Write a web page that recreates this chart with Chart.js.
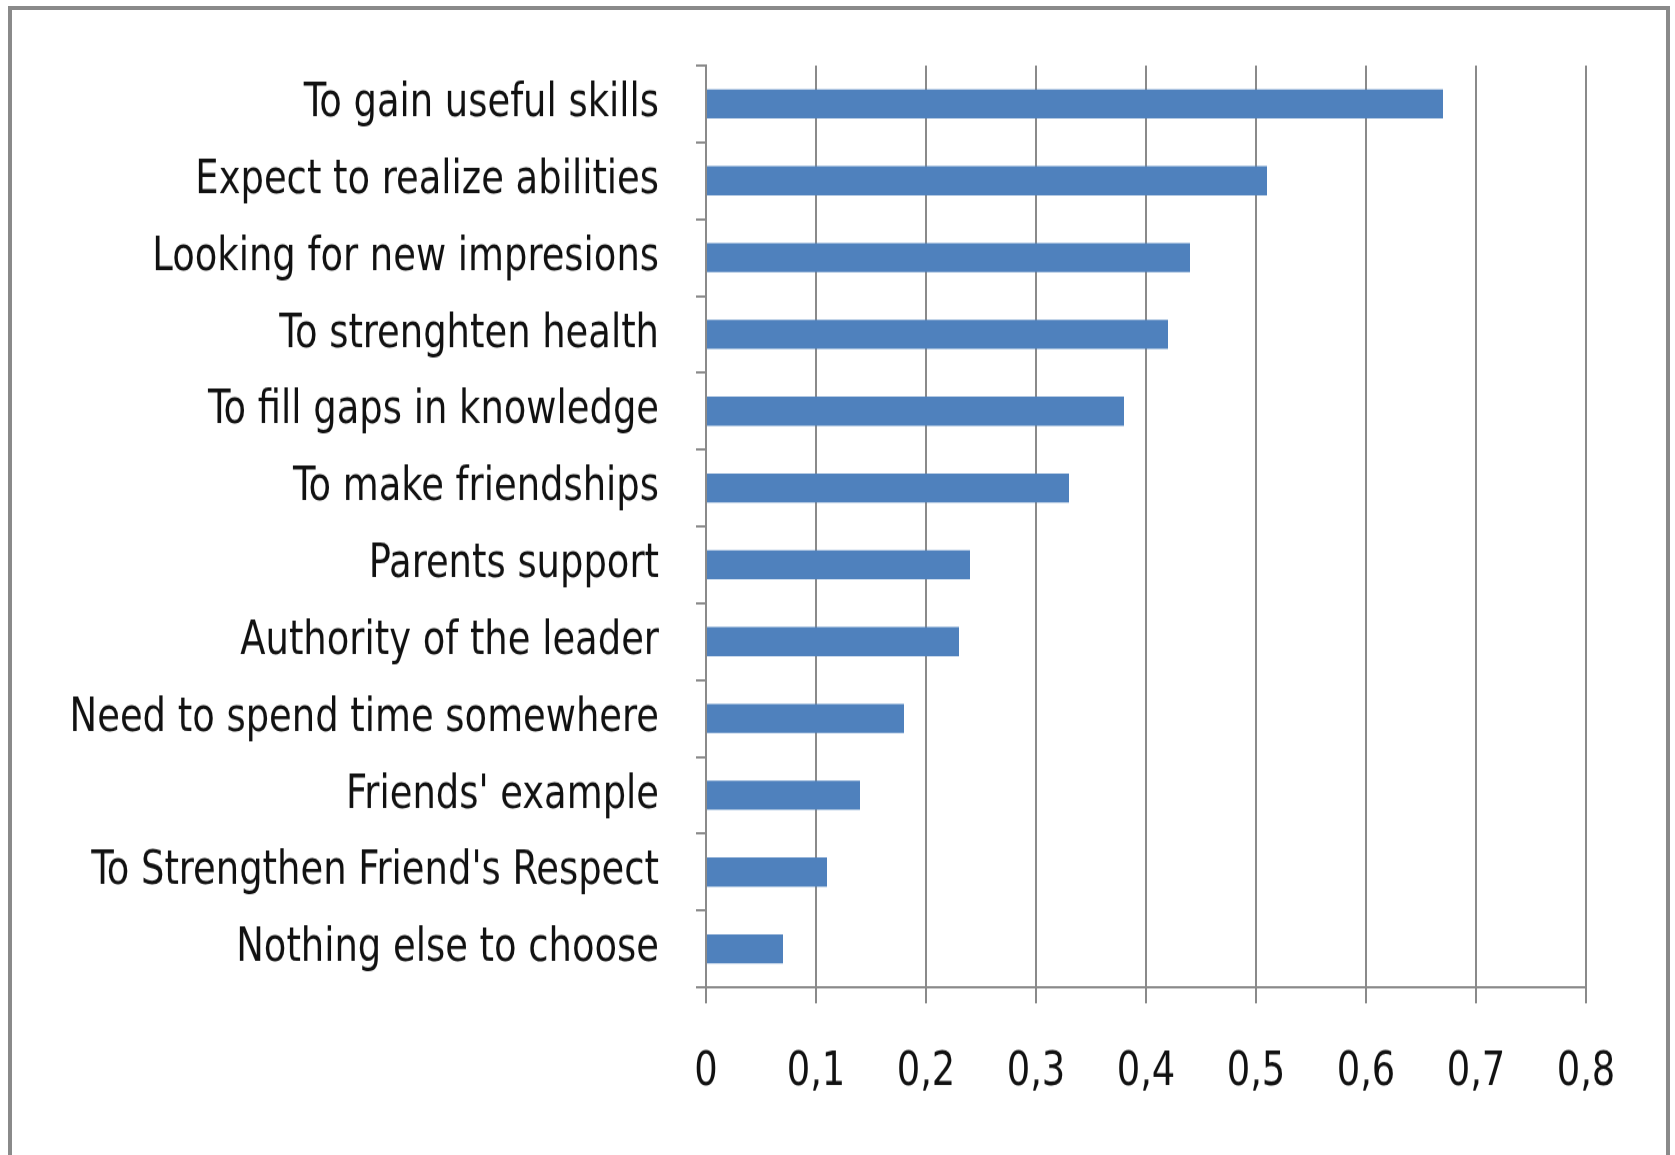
<!DOCTYPE html>
<html>
<head>
<meta charset="utf-8">
<script src="https://cdn.jsdelivr.net/npm/chart.js@4.4.1/dist/chart.umd.min.js"></script>
<style>
  html, body { margin: 0; padding: 0; background: #fff; }
  #wrap { position: relative; width: 1675px; height: 1155px; overflow: hidden; }
  /* the source picture is a vertically stretched Excel chart: squeeze-free text, taller glyphs */
  #stretch { position: absolute; left: 0; top: 0; width: 1675px; height: 1005px;
             transform: scaleY(1.1493); transform-origin: 0 0; }
  #frame {
    position: absolute; left: 8px; top: 6px; width: 1654px; height: 1200px;
    border: 4px solid #8a8a8a; pointer-events: none;
  }
</style>
</head>
<body>
<div id="wrap">
  <div id="stretch"><canvas id="chart" width="1675" height="1005"></canvas></div>
  <div id="frame"></div>
</div>
<script>
const categories = [
  "To gain useful skills",
  "Expect to realize abilities",
  "Looking for new impresions",
  "To strenghten health",
  "To fill gaps in knowledge",
  "To make friendships",
  "Parents support",
  "Authority of the leader",
  "Need to spend time somewhere",
  "Friends' example",
  "To Strengthen Friend's Respect",
  "Nothing else to choose"
];
const values = [0.67, 0.51, 0.44, 0.42, 0.38, 0.33, 0.24, 0.23, 0.18, 0.14, 0.11, 0.07];
const xMin = 0;
const xMax = 0.8;
const xStep = 0.1;

const fontFamily = '"DejaVu Sans Condensed", "Liberation Sans Narrow", "Liberation Sans", sans-serif';
const gridColor = "#8a8a8a";

const ctx = document.getElementById("chart").getContext("2d");
new Chart(ctx, {
  type: "bar",
  data: {
    labels: categories,
    datasets: [{
      data: values,
      backgroundColor: "#4f81bd",
      borderWidth: 0,
      categoryPercentage: 1,
      barPercentage: 0.38
    }]
  },
  options: {
    indexAxis: "y",
    responsive: false,
    animation: false,
    layout: { padding: { left: 0, right: 89, top: 57, bottom: 0 } },
    plugins: {
      legend: { display: false },
      tooltip: { enabled: false }
    },
    scales: {
      x: {
        min: xMin,
        max: xMax,
        afterFit: scale => { scale.height = 146; },
        grid: { color: gridColor, lineWidth: 2, tickLength: 14 },
        border: { color: gridColor, width: 2 },
        ticks: {
          stepSize: xStep,
          padding: 36,
          color: "#111",
          font: { family: fontFamily, size: 41 },
          // comma as decimal separator
          callback: v => v === 0 ? "0" : v.toFixed(1).replace(".", ",")
        }
      },
      y: {
        afterFit: scale => {
          scale.width = 706;
          // labels sit mid-category, no extra room needed above/below
          scale.paddingTop = 0;
          scale.paddingBottom = 0;
        },
        grid: { drawOnChartArea: false, color: gridColor, lineWidth: 2, tickLength: 10, offset: true },
        border: { color: gridColor, width: 2 },
        ticks: {
          padding: 37,
          color: "#111",
          font: { family: fontFamily, size: 41 }
        }
      }
    }
  }
});
</script>
</body>
</html>
